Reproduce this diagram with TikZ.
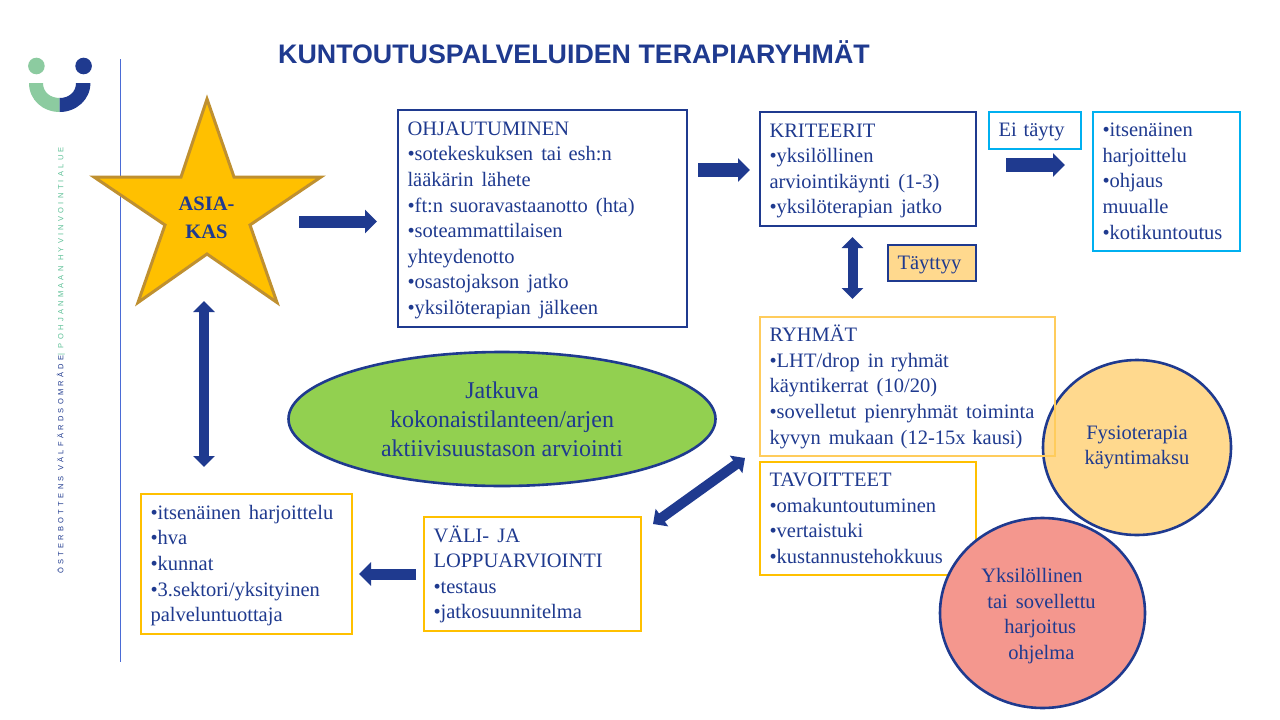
\documentclass[tikz,border=0pt]{standalone}
\usepackage{fontspec}
\setmainfont{Liberation Serif}
\newfontfamily\headfont{Liberation Sans}
\usetikzlibrary{arrows.meta,shapes.geometric}
\definecolor{navy}{HTML}{1F3A8F}
\definecolor{gold}{HTML}{FFC000}
\definecolor{goldline}{HTML}{BF9030}
\definecolor{sky}{HTML}{00B0F0}
\definecolor{paleyellow}{HTML}{FFCC5C}
\definecolor{peach}{HTML}{FFD98E}
\definecolor{salmon}{HTML}{F4978E}
\definecolor{leaf}{HTML}{92D050}
\definecolor{mint}{HTML}{8CCBA0}
\definecolor{sidegreen}{HTML}{5CC096}
\definecolor{rulecol}{HTML}{4A6BD6}
\newcommand{\wsp}{\hspace{0.4em}}
\tikzset{
  txtbox/.style n args={3}{draw=#1,line width=2.8pt,fill=white,inner xsep=9.5pt,inner ysep=0pt,outer sep=0pt,
    text=navy,text width=#2-19pt,minimum height=#3,align=left,font=\fontsize{20.5}{25.6}\selectfont,
    execute at begin node={\rule{0pt}{19.3pt}},execute at end node={\rule[-6.5pt]{0pt}{6.5pt}}},
  blob/.style={ellipse,draw=navy,line width=2.6pt,align=center,text=navy,inner sep=0pt,font=\fontsize{20.5}{25.6}\selectfont},
  onearrow/.style={draw=navy,line width=#1,-{Triangle[length=12pt,width=23pt]}},
  botharrow/.style={draw=navy,line width=#1,{Triangle[length=11pt,width=21pt]}-{Triangle[length=11pt,width=21pt]}},
}
\begin{document}
\begin{tikzpicture}[x=1pt,y=-1pt]
  \useasboundingbox (0,0) rectangle (1280,720);
  \fill[white] (0,0) rectangle (1280,720);
  % logo and side rule
  \fill[mint] (36.4,66) circle (8.3);
  \fill[navy] (83.6,66) circle (8.3);
  \fill[mint] (29,83) -- (43,83) .. controls (43,92) and (50,98) .. (59.7,98) -- (59.7,112) .. controls (43,112) and (29,100) .. cycle;
  \fill[navy] (90.4,83) -- (76,83) .. controls (76,92) and (69,98) .. (59.7,98) -- (59.7,112) .. controls (76,112) and (90.4,100) .. cycle;
  \draw[rulecol,line width=1pt] (120.5,59) -- (120.5,662);
  \node[rotate=90,anchor=west,inner sep=0pt,font=\headfont\fontsize{7.5}{8}\selectfont] (sidetext) at (61,574)
    {\addfontfeature{LetterSpace=44}\textcolor{navy}{ÖSTERBOTTENS VÄLFÄRDSOMRÅDE}\textcolor{sidegreen}{ | POHJANMAAN HYVINVOINTIALUE}};
  % title
  \node[anchor=west,inner sep=0pt,text=navy,font=\headfont\bfseries\fontsize{26.8}{30}\selectfont] (title) at (278,52) {KUNTOUTUSPALVELUIDEN TERAPIARYHMÄT};
  % star
  \draw[goldline,fill=gold,line width=3pt] (207,99) -- (234,177) -- (321,177) -- (250,225) -- (277,302.5) -- (207,254)
    -- (138,302.5) -- (165,225) -- (94,177) -- (181,177) -- cycle;
  \node[align=center,text=navy,inner sep=0pt,font=\bfseries\fontsize{20.5}{28}\selectfont] (asiakas) at (206.5,218) {ASIA-\\KAS};
  % boxes
  \node[txtbox={navy}{289}{217}] (ohjaus) at (542.5,218.5) {OHJAUTUMINEN\\•sotekeskuksen\wsp tai esh:n\\lääkärin\wsp lähete\\•ft:n suoravastaanotto\wsp (hta)\\•soteammattilaisen\\yhteydenotto\\•osastojakson\wsp jatko\\•yksilöterapian\wsp jälkeen};
  \node[txtbox={navy}{216}{114}] (kriteerit) at (868,169) {KRITEERIT\\•yksilöllinen\\arviointikäynti\wsp (1-3)\\•yksilöterapian\wsp jatko};
  \node[txtbox={sky}{92}{37}] (eitayty) at (1035,130.5) {Ei täyty};
  \node[txtbox={sky}{147}{139}] (muut) at (1166.5,181.5) {•itsenäinen\\harjoittelu\\•ohjaus\\muualle\\•kotikuntoutus};
  \node[txtbox={navy}{88}{36},fill=peach] (taytyy) at (932,263) {Täyttyy};
  \node[blob,fill=peach,minimum width=188,minimum height=175] (fysio) at (1137,447.5) {Fysioterapia\\käyntimaksu};
  \node[txtbox={paleyellow}{295}{139},fill=none] (ryhmat) at (907.5,386.5) {RYHMÄT\\•LHT/drop\wsp in ryhmät\\käyntikerrat\wsp (10/20)\\•sovelletut\wsp pienryhmät\wsp toiminta\\kyvyn\wsp mukaan (12-15x kausi)};
  \node[txtbox={gold}{216}{113}] (tavoitteet) at (868,518.5) {TAVOITTEET\\•omakuntoutuminen\\•vertaistuki\\•kustannustehokkuus};
  \node[txtbox={gold}{217}{114}] (arviointi) at (532.5,574) {VÄLI-\wsp JA\\LOPPUARVIOINTI\\•testaus\\•jatkosuunnitelma};
  \node[txtbox={gold}{211}{140}] (jatko) at (246.5,564) {•itsenäinen\wsp harjoittelu\\•hva\\•kunnat\\•3.sektori/yksityinen\\palveluntuottaja};
  % ellipses
  \node[blob,fill=leaf,minimum width=427,minimum height=134,font=\fontsize{24}{29}\selectfont] (jatkuva) at (502,419) {Jatkuva\\kokonaistilanteen/arjen\\aktiivisuustason arviointi};
  \node[blob,fill=salmon,minimum width=205,minimum height=190,align=left] (yksil) at (1042.5,613) {\rule{0pt}{20pt}Yksilöllinen\\\hspace*{6pt}tai\wsp sovellettu\hspace*{8pt}\mbox{}\\\hspace*{23pt}harjoitus\\\hspace*{27pt}ohjelma};
  % arrows
  \coordinate (a1s) at (299,221.5);
  \coordinate (a1e) at (377,221.5);
  \coordinate (a2s) at (698,170);
  \coordinate (a2e) at (750,170);
  \coordinate (a3s) at (1006,165);
  \coordinate (a3e) at (1065,165);
  \coordinate (a4s) at (416,574);
  \coordinate (a4e) at (359,574);
  \coordinate (a5s) at (852.5,237);
  \coordinate (a5e) at (852.5,299);
  \coordinate (a6s) at (204,301);
  \coordinate (a6e) at (204,467);
  \coordinate (a7s) at (745,458);
  \coordinate (a7e) at (653,524);
  \draw[onearrow=12pt] (a1s) -- (a1e);
  \draw[onearrow=14pt] (a2s) -- (a2e);
  \draw[onearrow=14pt] (a3s) -- (a3e);
  \draw[onearrow=11pt] (a4s) -- (a4e);
  \draw[botharrow=10pt] (a5s) -- (a5e);
  \draw[botharrow=10pt] (a6s) -- (a6e);
  \draw[botharrow=10pt] (a7s) -- (a7e);
\end{tikzpicture}
\end{document}
